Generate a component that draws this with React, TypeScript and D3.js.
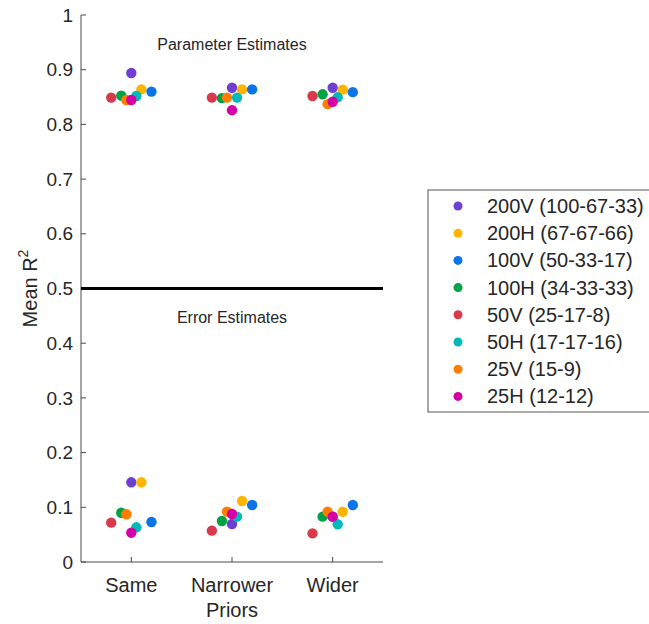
import React from "react";
import * as d3 from "d3";

const categories = ["Same", "Narrower", "Wider"];
const seriesNames = [
  "200V (100-67-33)",
  "200H (67-67-66)",
  "100V (50-33-17)",
  "100H (34-33-33)",
  "50V (25-17-8)",
  "50H (17-17-16)",
  "25V (15-9)",
  "25H (12-12)",
];
const seriesColors = ["#6f3fd2", "#ffb400", "#0a74e8", "#00a243", "#d83a4c", "#00b9b9", "#ff7d00", "#d400a6"];
const xOffsets = [0, 0.1, 0.2, -0.1, -0.2, 0.05, -0.05, 0];
const paramValues = [
  [0.894, 0.867, 0.867],
  [0.864, 0.864, 0.8635],
  [0.86, 0.864, 0.859],
  [0.8525, 0.848, 0.855],
  [0.849, 0.849, 0.852],
  [0.852, 0.849, 0.8495],
  [0.8446, 0.849, 0.837],
  [0.8446, 0.826, 0.8415],
];
const errorValues = [
  [0.1457, 0.0695, 0.083],
  [0.1457, 0.1115, 0.092],
  [0.0731, 0.1042, 0.1042],
  [0.0901, 0.075, 0.0829],
  [0.0719, 0.0573, 0.0524],
  [0.0634, 0.0829, 0.0689],
  [0.0872, 0.092, 0.092],
  [0.0536, 0.0878, 0.0829],
];
const yTicks = [0, 0.1, 0.2, 0.3, 0.4, 0.5, 0.6, 0.7, 0.8, 0.9, 1];
const dividerValue = 0.5;

const FONT = "'Liberation Sans', Arial, Helvetica, sans-serif";
const TEXT = "#262626";
const AXIS = "#4a4a4a";

export default function App() {
  const x = d3.scaleLinear().domain([0.5, 3.5]).range([81, 383]);
  const y = d3.scaleLinear().domain([0, 1]).range([562, 15]);
  const fmt = (v: number) => (v === 0 || v === 1 ? String(v) : d3.format(".1f")(v));
  const legendX = 428;
  const legendY = 190;
  const rowH = 27.2;

  return (
    <svg width={649} height={624} style={{ position: "absolute", left: 0, top: 0, background: "#fff" }} fontFamily={FONT}>
      <rect x={0} y={0} width={649} height={624} fill="#fff" />
      {/* axes */}
      <line x1={x(0.5)} x2={x(3.5)} y1={y(0)} y2={y(0)} stroke={AXIS} strokeWidth={1} />
      <line x1={x(0.5)} x2={x(0.5)} y1={y(0)} y2={y(1)} stroke={AXIS} strokeWidth={1} />
      {yTicks.map((t) => (
        <g key={t}>
          <line x1={x(0.5)} x2={x(0.5) + 5} y1={y(t)} y2={y(t)} stroke={AXIS} />
          <text x={x(0.5) - 8} y={y(t)} dy="0.35em" textAnchor="end" fontSize={19} fill={TEXT}>
            {fmt(t)}
          </text>
        </g>
      ))}
      {categories.map((c, i) => (
        <g key={c}>
          <line x1={x(i + 1)} x2={x(i + 1)} y1={y(0)} y2={y(0) - 5} stroke={AXIS} />
          <text x={x(i + 1)} y={592} textAnchor="middle" fontSize={20} fill={TEXT}>
            {c}
          </text>
        </g>
      ))}
      <text x={x(2)} y={617} textAnchor="middle" fontSize={20} fill={TEXT}>
        Priors
      </text>
      <text transform={`translate(37,${y(0.5)}) rotate(-90)`} textAnchor="middle" fontSize={20} fill={TEXT}>
        Mean R<tspan dy={-9} fontSize={14}>2</tspan>
      </text>
      {/* divider */}
      <line x1={x(0.5)} x2={x(3.5)} y1={y(dividerValue)} y2={y(dividerValue)} stroke="#000" strokeWidth={3} />
      <text x={x(2)} y={50} textAnchor="middle" fontSize={16} fill={TEXT}>
        Parameter Estimates
      </text>
      <text x={x(2)} y={323} textAnchor="middle" fontSize={16} fill={TEXT}>
        Error Estimates
      </text>
      {/* points */}
      {seriesNames.map((s, si) => (
        <g key={s} fill={seriesColors[si]}>
          {paramValues[si].map((v, ci) => (
            <circle key={"p" + ci} cx={x(ci + 1 + xOffsets[si])} cy={y(v)} r={5.2} />
          ))}
          {errorValues[si].map((v, ci) => (
            <circle key={"e" + ci} cx={x(ci + 1 + xOffsets[si])} cy={y(v)} r={5.2} />
          ))}
        </g>
      ))}
      {/* legend */}
      <rect x={legendX} y={legendY} width={240} height={222} fill="#fff" stroke="#555" strokeWidth={1} />
      {seriesNames.map((s, si) => (
        <g key={"l" + s}>
          <circle cx={458} cy={legendY + 16 + si * rowH} r={4.5} fill={seriesColors[si]} />
          <text x={487} y={legendY + 16 + si * rowH} dy="0.35em" fontSize={20} fill={TEXT}>
            {s}
          </text>
        </g>
      ))}
    </svg>
  );
}
